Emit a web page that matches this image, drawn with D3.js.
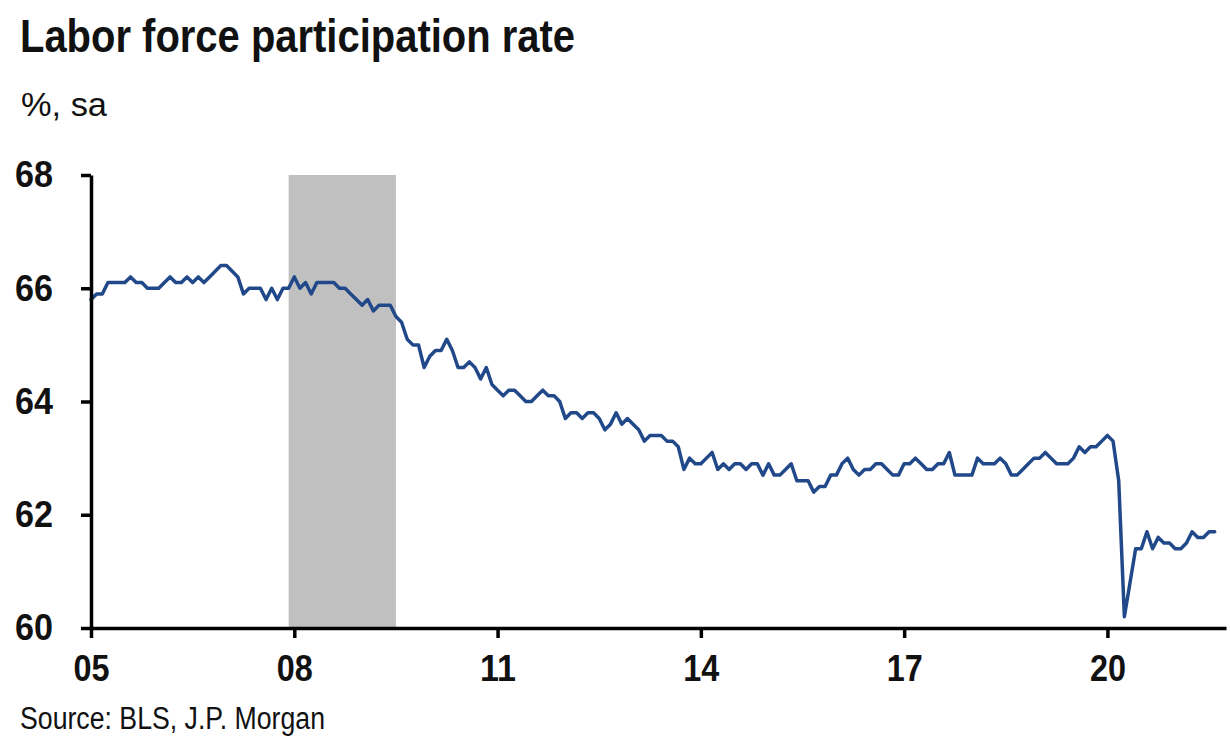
<!DOCTYPE html>
<html>
<head>
<meta charset="utf-8">
<script src="https://cdn.jsdelivr.net/npm/d3@7"></script>
<style>
  html, body { margin: 0; padding: 0; background: #ffffff; }
  svg { display: block; }
  text { font-family: "Liberation Sans Narrow", "Liberation Sans", Arial, sans-serif; fill: #111; }
</style>
</head>
<body>
<svg id="chart" width="1230" height="748"></svg>
<script>
// Labor force participation rate, %, seasonally adjusted, monthly Jan 2005 – Aug 2021
const startYear = 2005;
const lfpr2005 = [65.8, 65.9, 65.9, 66.1, 66.1, 66.1, 66.1, 66.2, 66.1, 66.1, 66.0, 66.0];
const lfpr2006 = [66.0, 66.1, 66.2, 66.1, 66.1, 66.2, 66.1, 66.2, 66.1, 66.2, 66.3, 66.4];
const lfpr2007 = [66.4, 66.3, 66.2, 65.9, 66.0, 66.0, 66.0, 65.8, 66.0, 65.8, 66.0, 66.0];
const lfpr2008 = [66.2, 66.0, 66.1, 65.9, 66.1, 66.1, 66.1, 66.1, 66.0, 66.0, 65.9, 65.8];
const lfpr2009 = [65.7, 65.8, 65.6, 65.7, 65.7, 65.7, 65.5, 65.4, 65.1, 65.0, 65.0, 64.6];
const lfpr2010 = [64.8, 64.9, 64.9, 65.1, 64.9, 64.6, 64.6, 64.7, 64.6, 64.4, 64.6, 64.3];
const lfpr2011 = [64.2, 64.1, 64.2, 64.2, 64.1, 64.0, 64.0, 64.1, 64.2, 64.1, 64.1, 64.0];
const lfpr2012 = [63.7, 63.8, 63.8, 63.7, 63.8, 63.8, 63.7, 63.5, 63.6, 63.8, 63.6, 63.7];
const lfpr2013 = [63.6, 63.5, 63.3, 63.4, 63.4, 63.4, 63.3, 63.3, 63.2, 62.8, 63.0, 62.9];
const lfpr2014 = [62.9, 63.0, 63.1, 62.8, 62.9, 62.8, 62.9, 62.9, 62.8, 62.9, 62.9, 62.7];
const lfpr2015 = [62.9, 62.7, 62.7, 62.8, 62.9, 62.6, 62.6, 62.6, 62.4, 62.5, 62.5, 62.7];
const lfpr2016 = [62.7, 62.9, 63.0, 62.8, 62.7, 62.8, 62.8, 62.9, 62.9, 62.8, 62.7, 62.7];
const lfpr2017 = [62.9, 62.9, 63.0, 62.9, 62.8, 62.8, 62.9, 62.9, 63.1, 62.7, 62.7, 62.7];
const lfpr2018 = [62.7, 63.0, 62.9, 62.9, 62.9, 63.0, 62.9, 62.7, 62.7, 62.8, 62.9, 63.0];
const lfpr2019 = [63.0, 63.1, 63.0, 62.9, 62.9, 62.9, 63.0, 63.2, 63.1, 63.2, 63.2, 63.3];
const lfpr2020 = [63.4, 63.3, 62.6, 60.2, 60.8, 61.4, 61.4, 61.7, 61.4, 61.6, 61.5, 61.5];
const lfpr2021 = [61.4, 61.4, 61.5, 61.7, 61.6, 61.6, 61.7, 61.7];

// NBER recession, Dec 2007 – Jun 2009 (fractional years)
const recessions = [[2007 + 11 / 12, 2009.5]];

const yTicks = [60, 62, 64, 66, 68];
const xTicks = [2005, 2008, 2011, 2014, 2017, 2020];
const xTickLabels = ["05", "08", "11", "14", "17", "20"];

const titleText = "Labor force participation rate";
const unitText = "%, sa";
const sourceText = "Source: BLS, J.P. Morgan";

// ---- build the monthly series ----
const yearly = [lfpr2005, lfpr2006, lfpr2007, lfpr2008, lfpr2009, lfpr2010, lfpr2011,
  lfpr2012, lfpr2013, lfpr2014, lfpr2015, lfpr2016, lfpr2017, lfpr2018, lfpr2019,
  lfpr2020, lfpr2021];
const series = [];
yearly.forEach((vals, i) => {
  vals.forEach((v, m) => series.push({ t: startYear + i + m / 12, v: v }));
});

const svg = d3.select("#chart");

const x = d3.scaleLinear().domain([2005, 2021.75]).range([91, 1226]);
const y = d3.scaleLinear().domain([60, 68]).range([628, 175]);

// recession shading
svg.append("g").selectAll("rect")
  .data(recessions)
  .join("rect")
  .attr("x", d => x(d[0]))
  .attr("width", d => x(d[1]) - x(d[0]))
  .attr("y", y(68))
  .attr("height", y(60) - y(68))
  .attr("fill", "#c0c0c0");

// line
const line = d3.line().x(d => x(d.t)).y(d => y(d.v));
svg.append("path")
  .datum(series)
  .attr("d", line)
  .attr("fill", "none")
  .attr("stroke", "#21498a")
  .attr("stroke-width", 3.5)
  .attr("stroke-linejoin", "round")
  .attr("stroke-linecap", "round");

// y axis
const yAxis = svg.append("g")
  .attr("transform", `translate(${x(2005)},0)`)
  .call(d3.axisLeft(y).tickValues(yTicks).tickFormat(d3.format("d"))
    .tickSize(10).tickSizeOuter(0).tickPadding(28));
yAxis.select(".domain").attr("stroke", "#000").attr("stroke-width", 3.5);
yAxis.selectAll(".tick line").attr("stroke", "#000").attr("stroke-width", 3.5);
yAxis.selectAll(".tick text")
  .attr("font-size", 37).attr("font-weight", "bold")
  .attr("font-family", "'Liberation Sans Narrow', 'Liberation Sans', Arial, sans-serif")
  .attr("fill", "#111")
  .attr("textLength", 38).attr("lengthAdjust", "spacingAndGlyphs");

// x axis
const xAxis = svg.append("g")
  .attr("transform", `translate(0,${y(60)})`)
  .call(d3.axisBottom(x).tickValues(xTicks)
    .tickFormat((d, i) => xTickLabels[i])
    .tickSize(10).tickSizeOuter(0).tickPadding(17));
xAxis.select(".domain").attr("stroke", "#000").attr("stroke-width", 3.5);
xAxis.selectAll(".tick line").attr("stroke", "#000").attr("stroke-width", 3.5);
xAxis.selectAll(".tick text")
  .attr("font-size", 37).attr("font-weight", "bold")
  .attr("font-family", "'Liberation Sans Narrow', 'Liberation Sans', Arial, sans-serif")
  .attr("fill", "#111")
  .attr("textLength", 36).attr("lengthAdjust", "spacingAndGlyphs");

// titles
svg.append("text")
  .attr("x", 20).attr("y", 52)
  .attr("font-size", 47).attr("font-weight", "bold")
  .attr("textLength", 555).attr("lengthAdjust", "spacingAndGlyphs")
  .text(titleText);

svg.append("text")
  .attr("x", 21).attr("y", 116)
  .attr("font-size", 33)
  .attr("fill", "#222")
  .attr("textLength", 86).attr("lengthAdjust", "spacingAndGlyphs")
  .text(unitText);

svg.append("text")
  .attr("x", 20).attr("y", 729)
  .attr("font-size", 31)
  .attr("fill", "#222")
  .attr("textLength", 305).attr("lengthAdjust", "spacingAndGlyphs")
  .text(sourceText);
</script>
</body>
</html>
